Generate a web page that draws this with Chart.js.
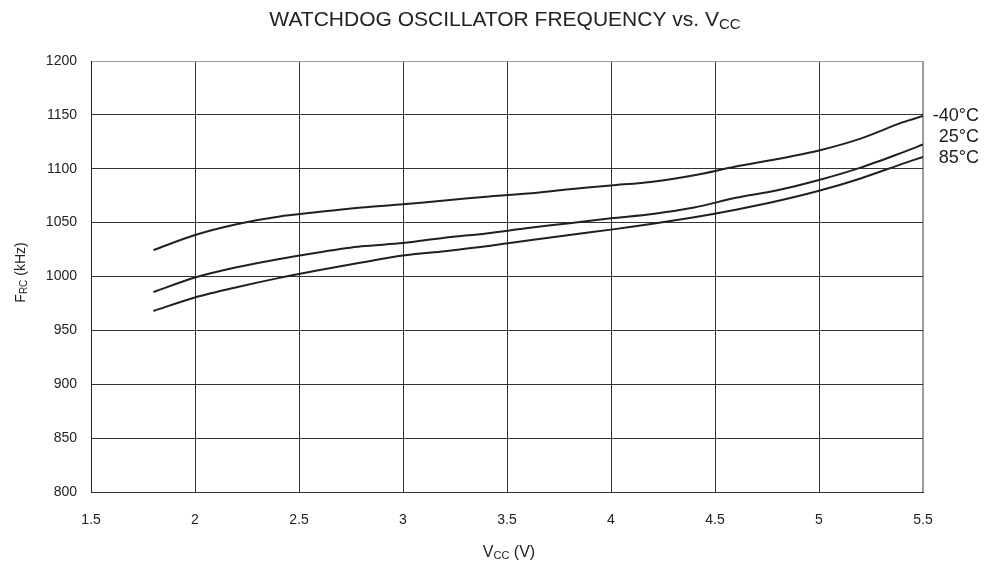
<!DOCTYPE html>
<html>
<head>
<meta charset="utf-8">
<script src="https://cdn.jsdelivr.net/npm/chart.js@4"></script>
<style>
html,body{margin:0;padding:0;background:#fff;}
canvas{display:block;}
</style>
</head>
<body>
<canvas id="c" width="1001" height="565"></canvas>
<script>
const volts = [1.8, 2.0, 2.2, 2.4, 2.6, 2.8, 3.0, 3.2, 3.4, 3.6, 3.8, 4.0, 4.2, 4.4, 4.6, 4.8, 5.0, 5.2, 5.4, 5.5];
const fMinus40 = [1024.5, 1038.5, 1048.5, 1055.5, 1060, 1064, 1067, 1070.5, 1074, 1077, 1081, 1084.5, 1088, 1094, 1102, 1109, 1117, 1128, 1143, 1149];
const f25 = [985.5, 999, 1008.5, 1016, 1022.5, 1028, 1031, 1036, 1040, 1045, 1049.5, 1054, 1058, 1064, 1073, 1080, 1089.5, 1101, 1115, 1122.5];
const f85 = [968, 980.5, 990, 998.5, 1006, 1013, 1019.5, 1023.5, 1028, 1033.5, 1038.5, 1043.5, 1049, 1055, 1062, 1070, 1079.5, 1091, 1104.5, 1111];
const seriesNames = ['-40°C', '25°C', '85°C'];
const xTicks = [1.5, 2, 2.5, 3, 3.5, 4, 4.5, 5, 5.5];
const yTicks = [800, 850, 900, 950, 1000, 1050, 1100, 1150, 1200];

const FONT = '"Liberation Sans", Arial, sans-serif';
const TXT = '#222';

function pts(ys){ return volts.map((v,i)=>({x:v, y:ys[i]})); }
function ds(ys){
  return {data: pts(ys), showLine:true, borderColor:'#231f20', borderWidth:2,
          pointRadius:0, tension:0.3, fill:false};
}

function drawSub(ctx, parts, x, y, align, size, subSize, subDrop){
  let w = 0;
  parts.forEach(p=>{ ctx.font = (p.sub?subSize:size)+'px '+FONT; p.w = ctx.measureText(p.t).width; w += p.w; });
  let cx = align==='center' ? x - w/2 : (align==='right' ? x - w : x);
  ctx.textAlign = 'left';
  ctx.textBaseline = 'alphabetic';
  parts.forEach(p=>{
    ctx.font = (p.sub?subSize:size)+'px '+FONT;
    ctx.fillText(p.t, cx, y + (p.sub ? subDrop : 0));
    cx += p.w;
  });
}

const textPlugin = {
  id:'texts',
  afterDraw(chart){
    const ctx = chart.ctx, a = chart.chartArea;
    ctx.save();
    ctx.fillStyle = TXT;
    // title
    drawSub(ctx, [{t:'WATCHDOG OSCILLATOR FREQUENCY vs. V'},{t:'CC',sub:true}], 505, 26, 'center', 21, 15, 2.5);
    // x title
    drawSub(ctx, [{t:'V'},{t:'CC',sub:true},{t:' (V)'}], (a.left+a.right)/2 + 2, 557, 'center', 16, 11, 2);
    // y title
    ctx.save();
    ctx.translate(25, (a.top+a.bottom)/2 - 4);
    ctx.rotate(-Math.PI/2);
    drawSub(ctx, [{t:'F'},{t:'RC',sub:true},{t:' (kHz)'}], 0, 0, 'center', 14, 10, 2);
    ctx.restore();
    // series labels
    ctx.font = '18px '+FONT;
    ctx.textAlign = 'right';
    ctx.textBaseline = 'middle';
    const ys = [116, 137, 158];
    seriesNames.forEach((n,i)=>ctx.fillText(n, 979, ys[i]));
    ctx.restore();
  }
};

new Chart(document.getElementById('c'), {
  type:'scatter',
  data:{ datasets:[ds(fMinus40), ds(f25), ds(f85)] },
  options:{
    responsive:false, animation:false,
    layout:{padding:{top:61, right:78, bottom:0, left:0}},
    plugins:{legend:{display:false}, tooltip:{enabled:false}},
    scales:{
      x:{
        type:'linear', min:1.5, max:5.5,
        afterBuildTicks(s){ s.ticks = xTicks.map(v=>({value:v})); },
        afterFit(s){ s.height = 73; },
        ticks:{ color:TXT, font:{family:FONT, size:14}, padding:20,
                callback:v=>String(v) },
        grid:{ drawTicks:false,
               color:c=> c.tick && c.tick.value===5.5 ? '#9a9ca3' : '#333',
               lineWidth:c=> c.tick && c.tick.value===5.5 ? 2 : 1 },
        border:{ color:'#333', width:1 }
      },
      y:{
        type:'linear', min:800, max:1200,
        afterBuildTicks(s){ s.ticks = yTicks.map(v=>({value:v})); },
        afterFit(s){ s.width = 91; },
        ticks:{ color:TXT, font:{family:FONT, size:14}, padding:14,
                callback:v=>String(v) },
        grid:{ drawTicks:false,
               color:c=> c.tick && c.tick.value===1200 ? '#9a9ca3' : '#333',
               lineWidth:1 },
        border:{ color:'#222', width:1 }
      }
    }
  },
  plugins:[textPlugin]
});
</script>
</body>
</html>
